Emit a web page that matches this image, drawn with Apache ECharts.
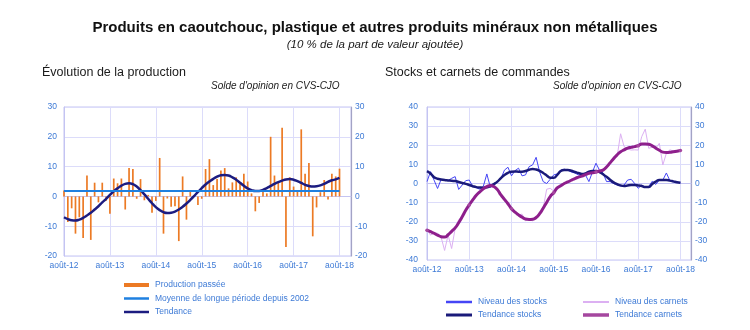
<!DOCTYPE html>
<html><head><meta charset="utf-8">
<script src="https://cdn.jsdelivr.net/npm/echarts@6/dist/echarts.min.js"></script>
<style>html,body{margin:0;padding:0;background:#fff}#c{width:750px;height:330px}</style>
</head><body><div id="c"></div>
<script>
// ---------- categories ----------
const MONTH_NAMES = ['janv.','févr.','mars','avr.','mai','juin','juil.','août','sept.','oct.','nov.','déc.'];
const START_YEAR = 2012, START_MONTH = 7, N_MONTHS = 76;
const TICK_LABELS = ['août-12','août-13','août-14','août-15','août-16','août-17','août-18'];
const categories = [];
for (let k = 0; k < N_MONTHS; k++) {
  const m = (START_MONTH + k) % 12, y = START_YEAR + Math.floor((START_MONTH + k) / 12);
  categories.push(MONTH_NAMES[m] + '-' + String(y).slice(2));
}

// ---------- left chart: production ----------
const PRODUCTION = [
  2, -8.6, -4, -12.5, -7, -14, 7, -14.6, 4.6, -2,
  4.6, -1.5, -5.8, 6, 4.4, 6, -4.4, 9.5, 9.2, -0.8,
  5.8, -1.3, 0.5, -5.5, -1.5, 12.9, -12.5, -0.7, -3.5, -3.3,
  -15, 6.7, -7.8, 1.9, 0.4, -2.9, -0.8, 9.2, 12.5, 3.8,
  5.8, 8.7, 9.5, 2.7, 4.7, 6.4, 4.4, 7.6, 5, 1,
  -5, -2.2, 1.9, 1, 20, 7, 4.6, 23, -17, 6.4,
  3.3, 1.8, 22.5, 7.6, 11.2, -13.4, -3.7, 1.4, 5.5, -1,
  7.6, 6.7, 9.3
];
const PRODUCTION_TREND = [
  -7.0, -7.6, -8.0, -8.1, -7.8, -7.2, -6.4, -5.5, -4.4, -3.3,
  -2.0, -0.8, 0.5, 1.7, 2.7, 3.6, 4.2, 4.4, 4.1, 3.3,
  2.1, 0.7, -0.8, -2.3, -3.6, -4.6, -5.3, -5.6, -5.5, -5.1,
  -4.4, -3.5, -2.4, -1.2, 0.1, 1.5, 2.8, 4.0, 5.0, 5.9,
  6.6, 7.1, 7.2, 7.0, 6.4, 5.6, 4.6, 3.6, 2.7, 2.1,
  1.8, 1.8, 2.2, 2.8, 3.5, 4.2, 4.8, 5.3, 5.7, 5.8,
  5.6, 5.1, 4.5, 3.9, 3.5, 3.3, 3.4, 3.7, 4.2, 4.9,
  5.4, 5.7, 6.2
];
const LONG_TERM_MEAN = 2.0;
const LEFT_Y_TICKS = { min: -20, max: 30, step: 10 };

// ---------- right chart: stocks & order books ----------
const STOCKS_LEVEL = [
  1, 6.2, 1.8, -2.6, 2.1, 1.8, 1.5, 2.7, 3.6, -3.1,
  -0.8, 1.5, 1.8, -1.5, -2.2, -3, -1.5, 5, -2, -1,
  1, 2.5, 7, 8.5, 4, 6.7, 8, 4, 4.5, 8.8,
  9.7, 13.7, 6, 1, 0, 2.2, 4.5, 5, 7, 7.5,
  7, 6, 5.5, 4.5, 4, 4.5, 1, 6, 10.6, 7,
  5.5, 1, 1, 0, -0.8, -1.3, -0.8, 1.8, 2.2, 0,
  -2.5, -0.8, -2, -1.5, 1.2, -0.5, 1.8, 1.8, 5.5, 1.5,
  0.8, 0.6, 0.4
];
const STOCKS_TREND = [
  6.5, 5.2, 3.3, 2.5, 2.1, 1.8, 1.6, 1.4, 1.3, 0.8,
  0.3, -0.2, -0.8, -1.4, -1.9, -2.1, -2.2, -2.0, -1.4, -0.3,
  1.0, 2.8, 4.4, 5.6, 6.2, 6.3, 6.2, 6.2, 6.5, 7.2,
  7.6, 7.3, 6.6, 5.5, 4.2, 3.0, 3.0, 4.5, 6.5, 7.0,
  7.0, 6.7, 6.0, 5.5, 5.0, 5.3, 6.2, 6.5, 6.5, 6.0,
  4.8, 3.5, 2.0, 0.6, -0.3, -1.0, -1.3, -1.0, -0.8, -0.8,
  -1.0, -1.3, -1.8, -1.8, -0.2, 1.0, 1.8, 1.8, 1.8, 1.5,
  1.1, 0.7, 0.4
];
const ORDERS_LEVEL = [
  -24, -27, -25.8, -26, -28, -35, -27, -34, -23.5, -19,
  -17, -14.5, -11, -8, -6, -4.5, -2.5, -1.5, -0.5, -1,
  -3.5, -6.5, -8, -11, -13, -14.5, -16.5, -16, -19.5, -18.5,
  -19.5, -18, -16, -13, -3, -2.5, -4, -2, -1.5, 0.5,
  1, 1.5, 2.8, 3, 4.2, 4.3, 5.2, 5.5, 6.5, 7.5,
  6.5, 9, 11, 13, 14, 26, 19.3, 18, 17.5, 17.6,
  17.5, 24.5, 28.4, 18.4, 19, 18.5, 21, 9.7, 15.8, 17.6,
  17, 17, 17
];
const ORDERS_TREND = [
  -24.4, -25.2, -26, -27, -27.8, -28, -26.8, -25, -23.2, -20.5,
  -17.4, -14, -11.2, -8.6, -6.2, -4.4, -2.8, -1.6, -1, -1.6,
  -3.2, -6, -8.3, -10.6, -13.2, -15, -16.4, -17.6, -18.6, -18.8,
  -18.7, -17.8, -15.8, -12.9, -9.9, -6.8, -4.8, -2.3, -1.2, 0,
  0.8, 1.7, 2.6, 3.3, 3.9, 4.6, 5.3, 5.6, 6, 6.5,
  7, 8.6, 10.8, 13, 15, 16.6, 17.6, 18.5, 18.9, 19.3,
  19.8, 20.6, 20.7, 20.5, 19.7, 18.5, 17.4, 16.4, 16.2, 16.3,
  16.6, 16.9, 17.2
];
const RIGHT_Y_TICKS = { min: -40, max: 40, step: 10 };

// ---------- texts ----------
const TITLE = 'Produits en caoutchouc, plastique et autres produits minéraux non métalliques';
const SUBTITLE = '(10 % de la part de valeur ajoutée)';
const LEFT_TITLE = 'Évolution de la production';
const RIGHT_TITLE = 'Stocks et carnets de commandes';
const UNIT = "Solde d'opinion en CVS-CJO";
const NAMES = {
  prod: 'Production passée', mean: 'Moyenne de longue période depuis 2002', trend: 'Tendance',
  stocks: 'Niveau des stocks', stocksT: 'Tendance stocks', orders: 'Niveau des carnets', ordersT: 'Tendance carnets'
};

// ---------- styles ----------
const FONT = 'Liberation Sans, Arial, sans-serif';
const LABEL_BLUE = '#3d7ad6';
const GRID_LINE = '#dcdcfa';
const FRAME = '#c4c4f2';
const RIGHT_AXIS = '#a3a3c6';
const isTick = (i, v) => TICK_LABELS.indexOf(v) >= 0;

function xAxis(gridIndex) {
  return {
    type: 'category', gridIndex, data: categories, boundaryGap: false,
    axisLine: { show: true, lineStyle: { color: FRAME } }, axisTick: { show: false },
    axisLabel: { interval: isTick, color: LABEL_BLUE, fontSize: 8.5, fontFamily: FONT, margin: 5 },
    splitLine: { show: true, interval: isTick, lineStyle: { color: GRID_LINE, width: 1 } }
  };
}
function yAxis(gridIndex, t, right) {
  return {
    type: 'value', gridIndex, min: t.min, max: t.max, interval: t.step, position: right ? 'right' : 'left',
    axisLine: { show: true, lineStyle: { color: right ? RIGHT_AXIS : FRAME, width: right ? 1.2 : 1 } },
    axisTick: { show: false },
    axisLabel: { color: LABEL_BLUE, fontSize: 8.5, fontFamily: FONT, margin: right ? 4 : (gridIndex ? 9 : 7) },
    splitLine: { show: !right, lineStyle: { color: GRID_LINE, width: 1 } }
  };
}
function legend(name, left, cy, h, w) {
  return {
    data: [name], left, top: cy - 5.5, icon: 'rect', itemWidth: w || 25, itemHeight: h, itemGap: 0,
    padding: 0, textStyle: { color: LABEL_BLUE, fontSize: 8.5, fontFamily: FONT, padding: [0, 0, 0, 1] }
  };
}
const titleStyle = (size, extra) => Object.assign({ fontSize: size, fontFamily: FONT, color: '#1a1a1a', fontWeight: 'normal' }, extra || {});

const option = {
  backgroundColor: '#fff',
  animation: false,
  title: [
    { text: TITLE, left: 'center', top: 20, padding: 0, textStyle: titleStyle(15, { fontWeight: 'bold', color: '#111' }) },
    { text: SUBTITLE, left: 'center', top: 39, padding: 0, textStyle: titleStyle(11.5, { fontStyle: 'italic' }) },
    { text: LEFT_TITLE, left: 42, top: 66, padding: 0, textStyle: titleStyle(12.5) },
    { text: UNIT, left: 211, top: 81, padding: 0, textStyle: titleStyle(10, { fontStyle: 'italic' }) },
    { text: RIGHT_TITLE, left: 385, top: 66, padding: 0, textStyle: titleStyle(12.5) },
    { text: UNIT, left: 553, top: 81, padding: 0, textStyle: titleStyle(10, { fontStyle: 'italic' }) }
  ],
  grid: [
    { left: 64, top: 107, width: 287, height: 149, show: true, borderColor: FRAME, borderWidth: 1 },
    { left: 427, top: 107, width: 264, height: 153, show: true, borderColor: FRAME, borderWidth: 1 }
  ],
  xAxis: [xAxis(0), xAxis(1)],
  yAxis: [yAxis(0, LEFT_Y_TICKS, false), yAxis(0, LEFT_Y_TICKS, true), yAxis(1, RIGHT_Y_TICKS, false), yAxis(1, RIGHT_Y_TICKS, true)],
  legend: [
    legend(NAMES.prod, 124, 286, 4),
    legend(NAMES.mean, 124, 299.5, 2.5),
    legend(NAMES.trend, 124, 313, 2.5),
    legend(NAMES.stocks, 446, 303, 2.5, 26),
    legend(NAMES.stocksT, 446, 316, 3, 26),
    legend(NAMES.orders, 583, 303, 2, 26),
    legend(NAMES.ordersT, 583, 316, 3.5, 26)
  ],
  series: [
    { name: NAMES.prod, type: 'bar', xAxisIndex: 0, yAxisIndex: 0, data: PRODUCTION, barWidth: 1.7,
      itemStyle: { color: '#ec7a24' } },
    { name: NAMES.mean, type: 'line', xAxisIndex: 0, yAxisIndex: 0, data: [], color: '#1f80e0',
      lineStyle: { color: '#1f80e0', width: 2 },
      markLine: { silent: true, symbol: 'none', label: { show: false },
        lineStyle: { color: '#1f80e0', width: 2, type: 'solid' },
        data: [[{ xAxis: TICK_LABELS[0], yAxis: LONG_TERM_MEAN }, { xAxis: TICK_LABELS[TICK_LABELS.length - 1], yAxis: LONG_TERM_MEAN }]] } },
    { name: NAMES.trend, type: 'line', xAxisIndex: 0, yAxisIndex: 0, data: PRODUCTION_TREND, smooth: true,
      showSymbol: false, color: '#1c1c80', lineStyle: { color: '#1c1c80', width: 2.5 } },

    { name: NAMES.stocks, type: 'line', xAxisIndex: 1, yAxisIndex: 2, data: STOCKS_LEVEL, showSymbol: false,
      color: '#4545f5', lineStyle: { color: '#4545f5', width: 1 } },
    { name: NAMES.orders, type: 'line', xAxisIndex: 1, yAxisIndex: 2, data: ORDERS_LEVEL, showSymbol: false,
      color: '#dcb0f2', lineStyle: { color: '#dcb0f2', width: 1 } },
    { name: NAMES.stocksT, type: 'line', xAxisIndex: 1, yAxisIndex: 2, data: STOCKS_TREND, smooth: true, showSymbol: false,
      color: '#1a1a7a', lineStyle: { color: '#1a1a7a', width: 2.5 } },
    { name: NAMES.ordersT, type: 'line', xAxisIndex: 1, yAxisIndex: 2, data: ORDERS_TREND, smooth: true,
      symbol: 'circle', symbolSize: 3.5, showSymbol: true, color: '#8e1f8c',
      itemStyle: { color: '#a5479f', borderWidth: 0 }, lineStyle: { color: '#8e1f8c', width: 3 } }
  ]
};
const chart = echarts.init(document.getElementById('c'), null, { renderer: 'canvas' });
chart.setOption(option);
</script>
</body></html>
